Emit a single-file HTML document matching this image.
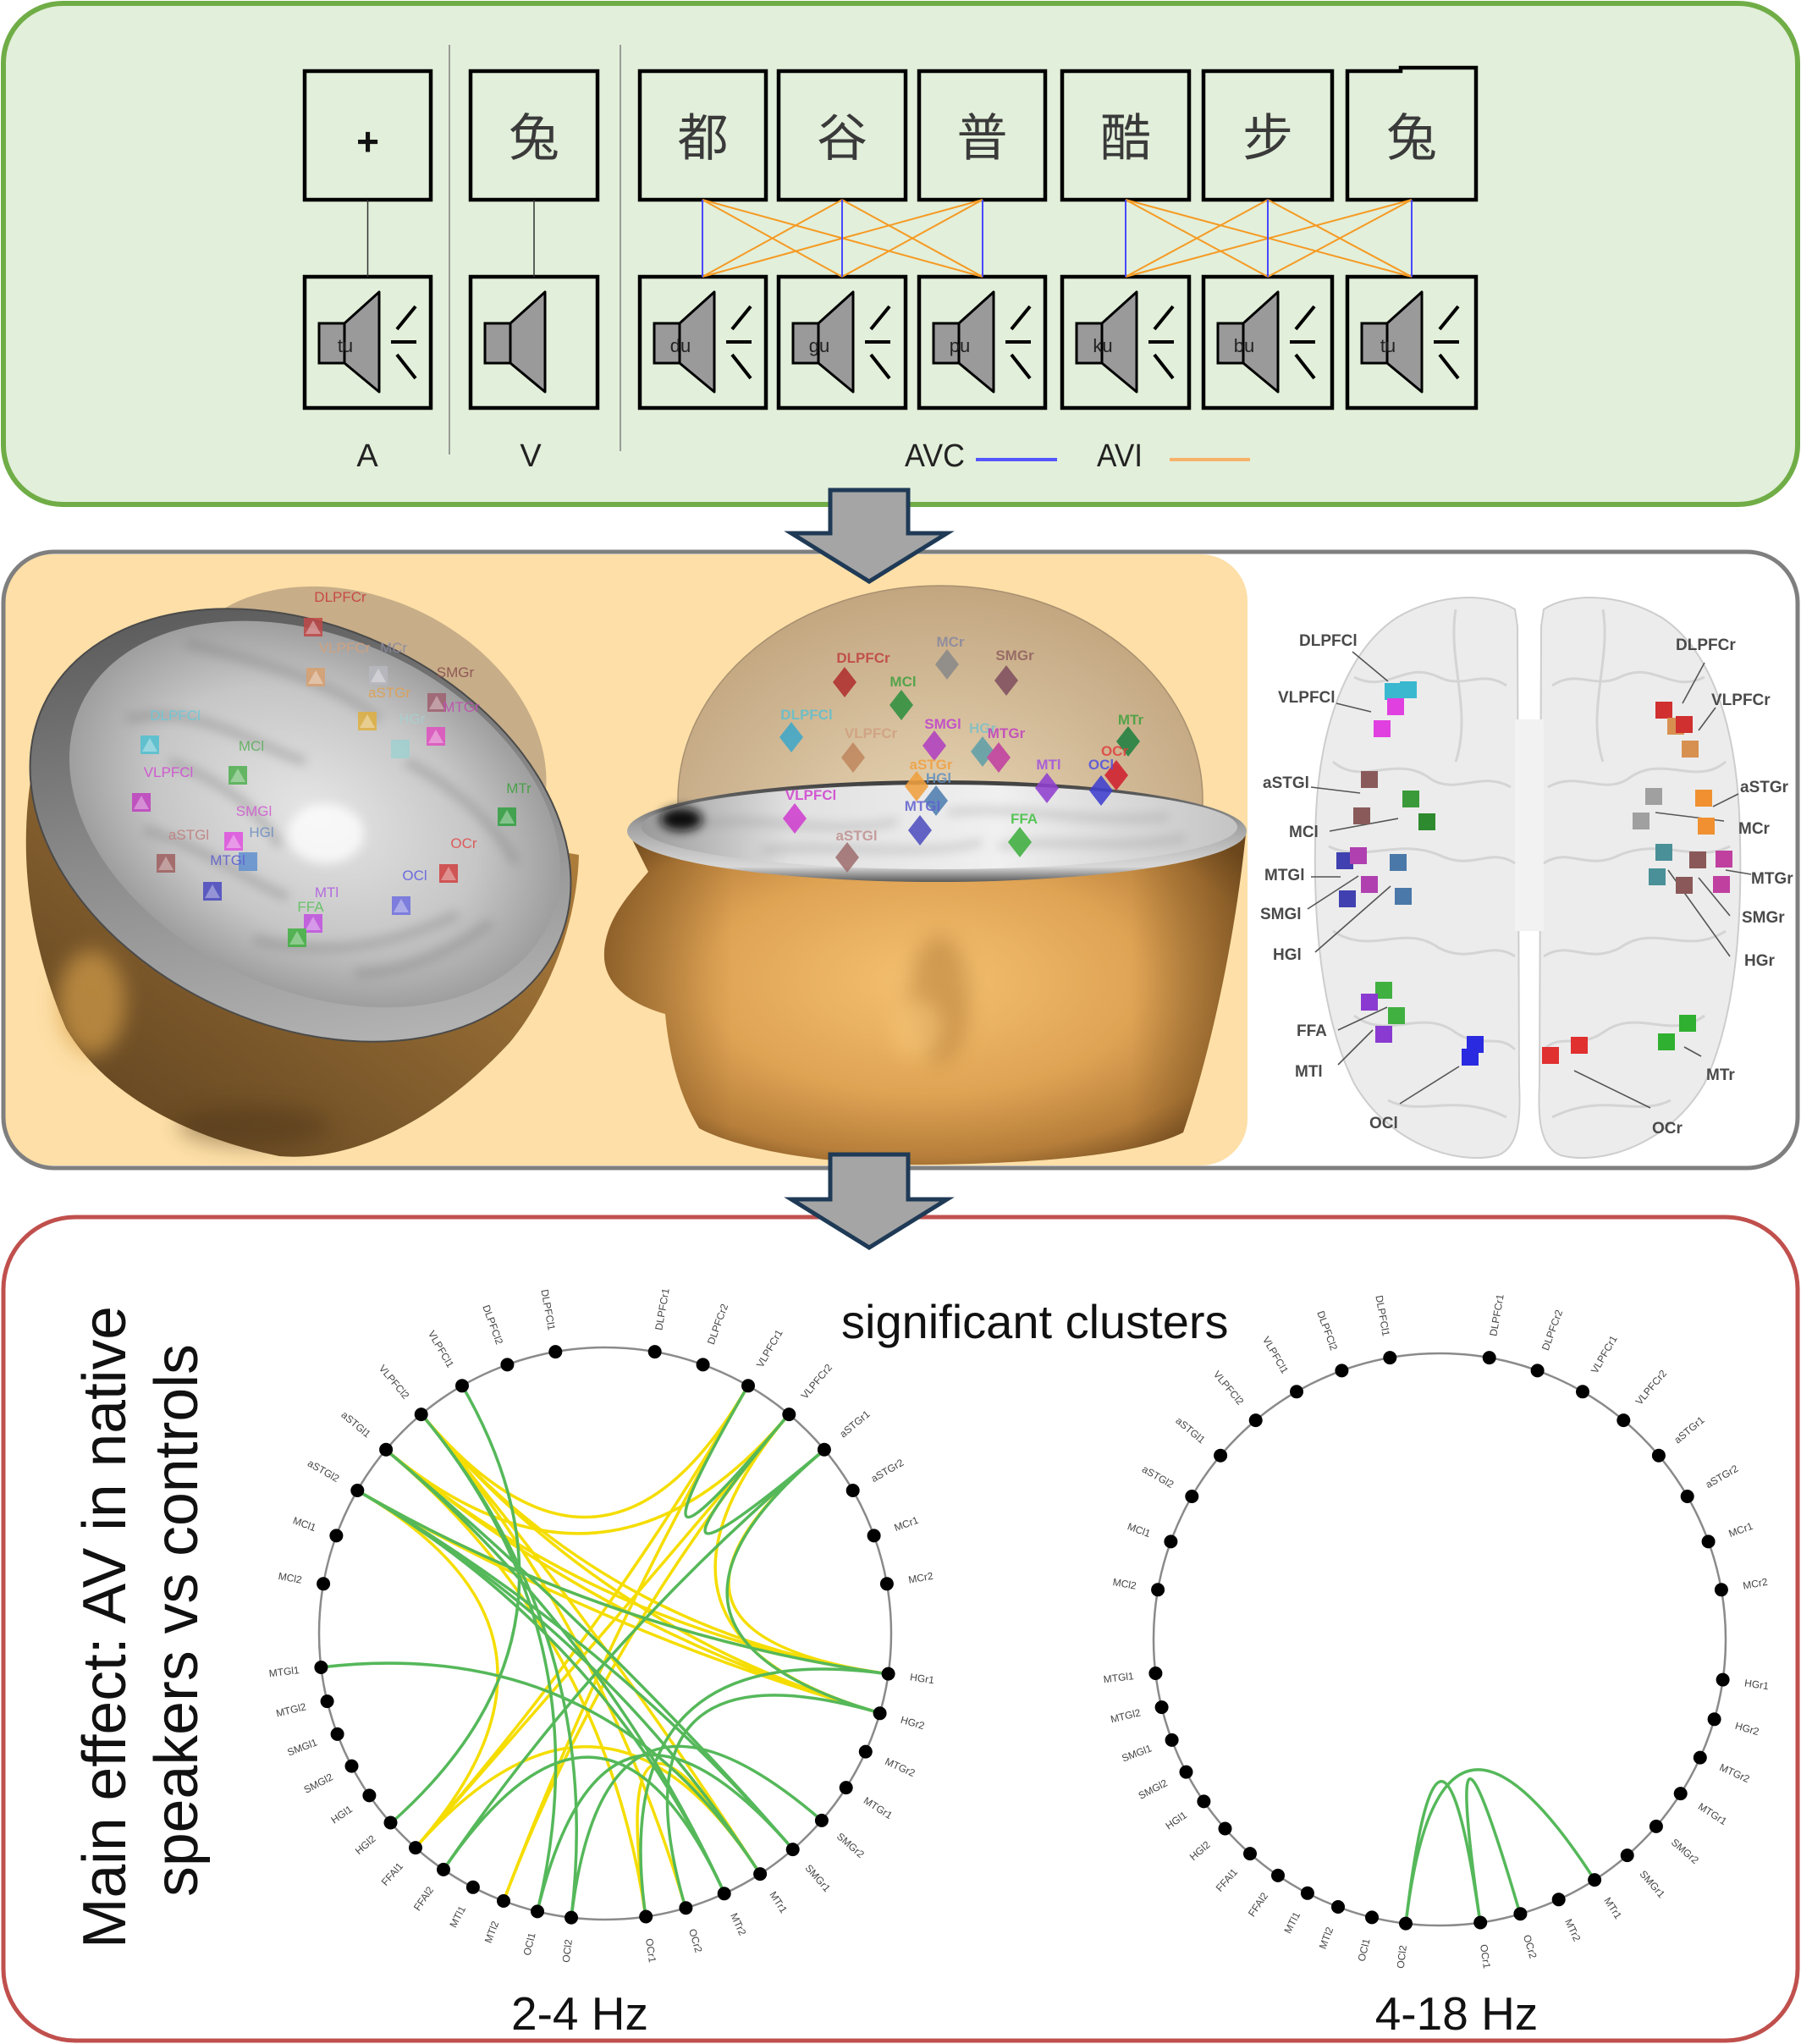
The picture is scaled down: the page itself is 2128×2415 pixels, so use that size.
<!DOCTYPE html>
<html><head><meta charset="utf-8"><style>html,body{margin:0;padding:0;background:#fff}svg{display:block}</style></head>
<body>
<svg xmlns="http://www.w3.org/2000/svg" width="2128" height="2415" viewBox="0 0 2128 2415" font-family="'Liberation Sans',Arial,sans-serif">
<defs>
<g id="spk">
<rect x="17" y="55" width="30" height="47" fill="#9a9a9a" stroke="#000" stroke-width="3"/>
<polygon points="47,55 88,18 88,136 47,102" fill="#9a9a9a" stroke="#000" stroke-width="3" stroke-linejoin="round"/>
<line x1="131" y1="35" x2="109" y2="62" stroke="#000" stroke-width="4"/>
<line x1="102" y1="77" x2="132" y2="77" stroke="#000" stroke-width="4"/>
<line x1="109" y1="92" x2="131" y2="120" stroke="#000" stroke-width="4"/>
</g>
<g id="spk0">
<rect x="17" y="55" width="30" height="47" fill="#9a9a9a" stroke="#000" stroke-width="3"/>
<polygon points="47,55 88,18 88,136 47,102" fill="#9a9a9a" stroke="#000" stroke-width="3" stroke-linejoin="round"/>
</g>
<linearGradient id="skinL" x1="0" y1="1" x2="1" y2="0"><stop offset="0" stop-color="#5a3f1e"/><stop offset=".5" stop-color="#87612f"/><stop offset="1" stop-color="#b9853f"/></linearGradient>
<radialGradient id="skinR" cx=".5" cy=".45" r=".62"><stop offset="0" stop-color="#f4c070"/><stop offset=".55" stop-color="#dfa354"/><stop offset=".85" stop-color="#b67e3a"/><stop offset="1" stop-color="#7e5424"/></radialGradient>
<linearGradient id="sideR" x1="0" y1="0" x2="1" y2="0"><stop offset="0" stop-color="#5a3a14" stop-opacity=".45"/><stop offset=".2" stop-color="#5a3a14" stop-opacity="0"/><stop offset=".82" stop-color="#5a3a14" stop-opacity="0"/><stop offset="1" stop-color="#5a3a14" stop-opacity=".55"/></linearGradient>
<linearGradient id="rimL" x1="0" y1="0" x2="1" y2="1"><stop offset="0" stop-color="#4a4a4a"/><stop offset=".5" stop-color="#8a8a8a"/><stop offset="1" stop-color="#c4c4c4"/></linearGradient>
<radialGradient id="sliceL" cx=".5" cy=".5" r=".55"><stop offset="0" stop-color="#e6e6e6"/><stop offset=".6" stop-color="#c6c6c6"/><stop offset="1" stop-color="#939393"/></radialGradient>
<radialGradient id="domeR" cx=".5" cy=".6" r=".6"><stop offset="0" stop-color="#ead8b8"/><stop offset="1" stop-color="#c2a680"/></radialGradient>
<linearGradient id="rimR" x1="0" y1="0" x2="0" y2="1"><stop offset="0" stop-color="#3c3c3c"/><stop offset=".45" stop-color="#a0a0a0"/><stop offset=".85" stop-color="#d8d8d8"/><stop offset="1" stop-color="#5a5a5a"/></linearGradient>
<linearGradient id="sliceR" x1="0" y1="0" x2="1" y2="0"><stop offset="0" stop-color="#9a9a9a"/><stop offset=".25" stop-color="#e0e0e0"/><stop offset=".6" stop-color="#f0f0f0"/><stop offset="1" stop-color="#c4c4c4"/></linearGradient>
<filter id="b6" x="-50%" y="-50%" width="200%" height="200%"><feGaussianBlur stdDeviation="6"/></filter>
<filter id="b12" x="-50%" y="-50%" width="200%" height="200%"><feGaussianBlur stdDeviation="12"/></filter>
</defs>

<rect width="2128" height="2415" fill="#fff"/>

<!-- TOP PANEL -->
<rect x="4" y="4" width="2120" height="592" rx="70" fill="#e2efda" stroke="#70ad47" stroke-width="6"/>
<line x1="531" y1="53" x2="531" y2="537" stroke="#808080" stroke-width="1.5"/>
<line x1="733" y1="53" x2="733" y2="533" stroke="#808080" stroke-width="1.5"/>
<g fill="none" stroke="#000" stroke-width="4.5">
<rect x="360" y="84" width="149" height="152"/>
<rect x="556" y="84" width="150" height="152"/>
<rect x="756" y="84" width="149" height="152"/>
<rect x="920" y="84" width="150" height="152"/>
<rect x="1086" y="84" width="149" height="152"/>
<rect x="1255" y="84" width="150" height="152"/>
<rect x="1422" y="84" width="152" height="152"/>
<path d="M1592 84 L1655 84 L1655 80 L1744 80 L1744 236 L1592 236 Z"/>
<rect x="360" y="327" width="149" height="155"/>
<rect x="556" y="327" width="150" height="155"/>
<rect x="756" y="327" width="149" height="155"/>
<rect x="920" y="327" width="150" height="155"/>
<rect x="1086" y="327" width="149" height="155"/>
<rect x="1255" y="327" width="150" height="155"/>
<rect x="1422" y="327" width="152" height="155"/>
<rect x="1592" y="327" width="152" height="155"/>
</g>
<text x="434.5" y="183" font-size="46" font-weight="bold" text-anchor="middle" fill="#111">+</text>
<g font-family="'Liberation Sans','Noto Sans CJK SC',sans-serif" font-size="60" fill="#3a3a3a" text-anchor="middle">
<text x="631" y="184">兔</text>
<text x="830.5" y="184">都</text>
<text x="995" y="184">谷</text>
<text x="1160.5" y="184">普</text>
<text x="1330" y="184">酷</text>
<text x="1498" y="184">步</text>
<text x="1668" y="184">兔</text>
</g>
<line x1="434.5" y1="236" x2="434.5" y2="327" stroke="#333" stroke-width="1.5"/>
<line x1="631" y1="236" x2="631" y2="327" stroke="#333" stroke-width="1.5"/>
<g stroke="#f59a23" stroke-width="2">
<line x1="830" y1="236" x2="995" y2="327"/><line x1="830" y1="236" x2="1161" y2="327"/>
<line x1="995" y1="236" x2="830" y2="327"/><line x1="995" y1="236" x2="1161" y2="327"/>
<line x1="1161" y1="236" x2="830" y2="327"/><line x1="1161" y1="236" x2="995" y2="327"/>
<line x1="1330" y1="236" x2="1498" y2="327"/><line x1="1330" y1="236" x2="1668" y2="327"/>
<line x1="1498" y1="236" x2="1330" y2="327"/><line x1="1498" y1="236" x2="1668" y2="327"/>
<line x1="1668" y1="236" x2="1330" y2="327"/><line x1="1668" y1="236" x2="1498" y2="327"/>
</g>
<g stroke="#4848ff" stroke-width="2">
<line x1="830" y1="236" x2="830" y2="327"/><line x1="995" y1="236" x2="995" y2="327"/><line x1="1161" y1="236" x2="1161" y2="327"/>
<line x1="1330" y1="236" x2="1330" y2="327"/><line x1="1498" y1="236" x2="1498" y2="327"/><line x1="1668" y1="236" x2="1668" y2="327"/>
</g>
<use href="#spk" x="360" y="327"/>
<use href="#spk0" x="556" y="327"/>
<use href="#spk" x="756" y="327"/>
<use href="#spk" x="920" y="327"/>
<use href="#spk" x="1086" y="327"/>
<use href="#spk" x="1255" y="327"/>
<use href="#spk" x="1422" y="327"/>
<use href="#spk" x="1592" y="327"/>
<g font-size="22" fill="#222" text-anchor="middle">
<text x="408" y="416">tu</text>
<text x="804" y="416">du</text>
<text x="968" y="416">gu</text>
<text x="1134" y="416">pu</text>
<text x="1303" y="416">ku</text>
<text x="1470" y="416">bu</text>
<text x="1640" y="416">tu</text>
</g>
<g font-size="38" fill="#222">
<text x="434" y="551" text-anchor="middle">A</text>
<text x="627" y="551" text-anchor="middle">V</text>
<text x="1069" y="551" textLength="71" lengthAdjust="spacingAndGlyphs">AVC</text>
<text x="1296" y="551" textLength="54" lengthAdjust="spacingAndGlyphs">AVI</text>
</g>
<line x1="1153" y1="543" x2="1249" y2="543" stroke="#5555ff" stroke-width="4"/>
<line x1="1382" y1="543" x2="1477" y2="543" stroke="#f7b26a" stroke-width="4"/>

<!-- MIDDLE PANEL -->
<rect x="4" y="652" width="2120" height="728" rx="60" fill="#fff"/>
<rect x="6" y="655" width="1468" height="722" rx="55" fill="#fddfa7"/>

<!-- left head -->
<path d="M40 900 C22 990 28 1100 78 1215 C125 1295 225 1345 330 1366 C425 1374 525 1315 602 1232 C652 1172 682 1085 684 1010 Z" fill="url(#skinL)"/>
<ellipse cx="108" cy="1185" rx="40" ry="62" fill="#d9a24c" opacity=".65" filter="url(#b12)"/>
<ellipse cx="300" cy="1330" rx="90" ry="25" fill="#4a3216" opacity=".4" filter="url(#b12)"/>
<ellipse cx="420" cy="880" rx="235" ry="175" transform="rotate(25 420 880)" fill="#c7ad88"/>
<ellipse cx="355" cy="975" rx="335" ry="235" transform="rotate(25 355 975)" fill="url(#rimL)" stroke="#4a4a4a" stroke-width="2"/>
<ellipse cx="372" cy="962" rx="305" ry="208" transform="rotate(25 372 962)" fill="url(#sliceL)"/>
<g filter="url(#b6)" stroke="#7a7a7a" stroke-width="10" fill="none" opacity=".4">
<path d="M150 850 C230 830 300 880 360 900"/>
<path d="M220 760 C300 780 380 800 450 850"/>
<path d="M300 1110 C380 1130 460 1120 540 1080"/>
<path d="M170 980 C240 1000 290 1040 340 1060"/>
<path d="M480 900 C540 930 590 980 610 1020"/>
<path d="M420 1150 C480 1150 540 1120 580 1090"/>
<path d="M200 900 C260 920 310 960 330 1000"/>
</g>
<ellipse cx="385" cy="985" rx="45" ry="35" fill="#fff" opacity=".75" filter="url(#b6)"/>

<!-- left head markers -->
<g opacity=".85">
<rect x="359" y="730" width="22" height="22" fill="#c04848"/>
<rect x="362" y="789" width="22" height="22" fill="#d8a070"/>
<rect x="436" y="787" width="22" height="22" fill="#b8b8c0"/>
<rect x="505" y="819" width="22" height="22" fill="#a06070"/>
<rect x="423" y="841" width="22" height="22" fill="#e0b040"/>
<rect x="504" y="859" width="22" height="22" fill="#e050c0"/>
<rect x="462" y="874" width="22" height="22" fill="#a0d0d0"/>
<rect x="166" y="869" width="22" height="22" fill="#50c0d0"/>
<rect x="270" y="905" width="22" height="22" fill="#50b050"/>
<rect x="156" y="937" width="22" height="22" fill="#c040c0"/>
<rect x="588" y="954" width="22" height="22" fill="#30a040"/>
<rect x="265" y="983" width="22" height="22" fill="#e050e0"/>
<rect x="282" y="1007" width="22" height="22" fill="#6090d0"/>
<rect x="185" y="1009" width="22" height="22" fill="#a06060"/>
<rect x="240" y="1042" width="22" height="22" fill="#4848c0"/>
<rect x="519" y="1021" width="22" height="22" fill="#d04040"/>
<rect x="463" y="1059" width="22" height="22" fill="#7070e0"/>
<rect x="359" y="1080" width="22" height="22" fill="#c050e0"/>
<rect x="340" y="1097" width="22" height="22" fill="#40b040"/>
</g>
<g fill="#fff" opacity=".35">
<polygon points="370,733 379,749 361,749"/><polygon points="373,792 382,808 364,808"/><polygon points="447,790 456,806 438,806"/>
<polygon points="516,822 525,838 507,838"/><polygon points="434,844 443,860 425,860"/><polygon points="515,862 524,878 506,878"/>
<polygon points="177,872 186,888 168,888"/><polygon points="281,908 290,924 272,924"/><polygon points="167,940 176,956 158,956"/>
<polygon points="599,957 608,973 590,973"/><polygon points="276,986 285,1002 267,1002"/><polygon points="196,1012 205,1028 187,1028"/>
<polygon points="251,1045 260,1061 242,1061"/><polygon points="530,1024 539,1040 521,1040"/><polygon points="474,1062 483,1078 465,1078"/>
<polygon points="370,1083 379,1099 361,1099"/><polygon points="351,1100 360,1116 342,1116"/>
</g>
<g font-size="17" text-anchor="middle" opacity=".9">
<text x="402" y="711" fill="#c84040">DLPFCr</text>
<text x="407" y="771" fill="#d4a27c">VLPFCr</text>
<text x="465" y="771" fill="#8a8aa0">MCr</text>
<text x="538" y="800" fill="#8a5050">SMGr</text>
<text x="460" y="824" fill="#e0a050">aSTGr</text>
<text x="545" y="841" fill="#c050b0">MTGr</text>
<text x="487" y="855" fill="#a8d0d0">HGr</text>
<text x="207" y="851" fill="#6cc8d8">DLPFCl</text>
<text x="297" y="887" fill="#60b060">MCl</text>
<text x="199" y="918" fill="#d050d0">VLPFCl</text>
<text x="613" y="937" fill="#40a040">MTr</text>
<text x="300" y="964" fill="#d060d0">SMGl</text>
<text x="309" y="989" fill="#7090c0">HGl</text>
<text x="223" y="992" fill="#c08080">aSTGl</text>
<text x="269" y="1022" fill="#6060d0">MTGl</text>
<text x="548" y="1002" fill="#e05050">OCr</text>
<text x="490" y="1040" fill="#6060e0">OCl</text>
<text x="386" y="1060" fill="#b060e0">MTl</text>
<text x="367" y="1077" fill="#60c060">FFA</text>
</g>

<!-- right head -->
<ellipse cx="1111" cy="945" rx="310" ry="253" fill="url(#domeR)" stroke="#a89070" stroke-width="1.5"/>
<path d="M742 982 L766 1030 C745 1055 716 1085 714 1125 C712 1160 740 1185 786 1198 C790 1240 800 1290 826 1333 C880 1362 1000 1378 1100 1376 C1250 1374 1350 1362 1398 1338 C1428 1250 1458 1120 1472 985 Z" fill="url(#skinR)"/>
<path d="M742 982 L766 1030 C745 1055 716 1085 714 1125 C712 1160 740 1185 786 1198 C790 1240 800 1290 826 1333 C880 1362 1000 1378 1100 1376 C1250 1374 1350 1362 1398 1338 C1428 1250 1458 1120 1472 985 Z" fill="url(#sideR)"/>
<ellipse cx="1110" cy="1180" rx="35" ry="75" fill="#a87232" opacity=".45" filter="url(#b12)"/>
<ellipse cx="1085" cy="1215" rx="30" ry="35" fill="#f8c878" opacity=".6" filter="url(#b12)"/>
<ellipse cx="1107" cy="982" rx="366" ry="60" fill="url(#rimR)"/>
<ellipse cx="1110" cy="977" rx="352" ry="50" fill="url(#sliceR)"/>
<g filter="url(#b6)" stroke="#8a8a8a" stroke-width="6" fill="none" opacity=".45">
<path d="M820 975 C900 960 980 990 1060 970"/>
<path d="M900 1005 C980 995 1080 1015 1160 995"/>
<path d="M1120 960 C1200 950 1280 975 1380 965"/>
<path d="M1180 1000 C1250 990 1320 1005 1400 990"/>
</g>
<ellipse cx="805" cy="968" rx="25" ry="14" fill="#111" filter="url(#b6)"/>
<g opacity=".88">
<polygon points="1119,767 1133,785 1119,803 1105,785" fill="#8a8a8a"/>
<polygon points="998,788 1012,806 998,824 984,806" fill="#b03030"/>
<polygon points="1189,786 1203,804 1189,822 1175,804" fill="#805060"/>
<polygon points="1065,815 1079,833 1065,851 1051,833" fill="#309040"/>
<polygon points="935,853 949,871 935,889 921,871" fill="#40a8c8"/>
<polygon points="1104,863 1118,881 1104,899 1090,881" fill="#b040c0"/>
<polygon points="1008,877 1022,895 1008,913 994,895" fill="#c08860"/>
<polygon points="1161,870 1175,888 1161,906 1147,888" fill="#60a0a8"/>
<polygon points="1180,877 1194,895 1180,913 1166,895" fill="#c040a0"/>
<polygon points="1333,858 1347,876 1333,894 1319,876" fill="#208040"/>
<polygon points="1319,898 1333,916 1319,934 1305,916" fill="#d02030"/>
<polygon points="1083,911 1097,929 1083,947 1069,929" fill="#f0a040"/>
<polygon points="1237,913 1251,931 1237,949 1223,931" fill="#9040d0"/>
<polygon points="1301,916 1315,934 1301,952 1287,934" fill="#4040d0"/>
<polygon points="1106,928 1120,946 1106,964 1092,946" fill="#5080b0"/>
<polygon points="939,949 953,967 939,985 925,967" fill="#d040d0"/>
<polygon points="1087,963 1101,981 1087,999 1073,981" fill="#5050c0"/>
<polygon points="1205,977 1219,995 1205,1013 1191,995" fill="#40b040"/>
<polygon points="1001,995 1015,1013 1001,1031 987,1013" fill="#a07070"/>
</g>
<g font-size="17" text-anchor="middle" font-weight="bold" opacity=".85">
<text x="1123" y="764" fill="#8888a0">MCr</text>
<text x="1020" y="783" fill="#c04040">DLPFCr</text>
<text x="1199" y="780" fill="#906060">SMGr</text>
<text x="1067" y="811" fill="#40a040">MCl</text>
<text x="953" y="850" fill="#60c0d0">DLPFCl</text>
<text x="1114" y="861" fill="#c040d0">SMGl</text>
<text x="1029" y="872" fill="#d0a080">VLPFCr</text>
<text x="1161" y="866" fill="#80c0c8">HGr</text>
<text x="1189" y="872" fill="#c040c0">MTGr</text>
<text x="1336" y="856" fill="#40a040">MTr</text>
<text x="1317" y="893" fill="#e04040">OCr</text>
<text x="1100" y="909" fill="#f0a040">aSTGr</text>
<text x="1239" y="909" fill="#a050e0">MTl</text>
<text x="1301" y="909" fill="#5050e0">OCl</text>
<text x="1109" y="925" fill="#6090c0">HGl</text>
<text x="958" y="945" fill="#d040d0">VLPFCl</text>
<text x="1090" y="958" fill="#6060d0">MTGl</text>
<text x="1210" y="973" fill="#40c040">FFA</text>
<text x="1012" y="993" fill="#c09090">aSTGl</text>
</g>

<!-- right brain -->
<path d="M1790 720 C1760 700 1700 700 1650 730 C1590 770 1560 860 1555 960 C1550 1080 1560 1200 1600 1280 C1640 1350 1720 1378 1770 1365 C1795 1355 1797 1320 1795 1280 L1793 740 Z" fill="#ececec" stroke="#cdcdcd" stroke-width="2"/>
<path d="M1824 720 C1854 700 1914 700 1964 730 C2024 770 2050 860 2055 960 C2060 1080 2052 1200 2014 1280 C1974 1350 1894 1378 1844 1365 C1819 1355 1817 1320 1819 1280 L1821 740 Z" fill="#ececec" stroke="#cdcdcd" stroke-width="2"/>
<rect x="1790" y="850" width="34" height="250" fill="#f2f2f2"/>
<g stroke="#d4d4d4" stroke-width="3" fill="none">
<path d="M1600 800 C1640 820 1660 780 1700 800 C1730 815 1750 790 1780 810"/>
<path d="M1575 900 C1610 930 1650 890 1690 920 C1720 940 1750 910 1785 930"/>
<path d="M1570 1000 C1610 1020 1650 990 1700 1010 C1740 1030 1760 1000 1790 1020"/>
<path d="M1575 1100 C1620 1130 1660 1090 1700 1120 C1740 1140 1760 1110 1790 1130"/>
<path d="M1600 1200 C1640 1230 1680 1190 1720 1220 C1750 1240 1770 1220 1790 1240"/>
<path d="M1640 1300 C1680 1320 1720 1290 1780 1320"/>
<path d="M2014 800 C1974 820 1954 780 1914 800 C1884 815 1864 790 1834 810"/>
<path d="M2039 900 C2004 930 1964 890 1924 920 C1894 940 1864 910 1829 930"/>
<path d="M2044 1000 C2004 1020 1964 990 1914 1010 C1874 1030 1854 1000 1824 1020"/>
<path d="M2039 1100 C1994 1130 1954 1090 1914 1120 C1874 1140 1854 1110 1824 1130"/>
<path d="M2014 1200 C1974 1230 1934 1190 1894 1220 C1864 1240 1844 1220 1824 1240"/>
<path d="M1974 1300 C1934 1320 1894 1290 1834 1320"/>
<path d="M1720 720 C1710 780 1740 840 1720 900"/>
<path d="M1894 720 C1904 780 1874 840 1894 900"/>
</g>
<g stroke="#555" stroke-width="1.6">
<line x1="1598" y1="770" x2="1640" y2="805"/>
<line x1="1579" y1="831" x2="1620" y2="841"/>
<line x1="1549" y1="930" x2="1607" y2="937"/>
<line x1="1571" y1="982" x2="1652" y2="967"/>
<line x1="1549" y1="1036" x2="1584" y2="1036"/>
<line x1="1545" y1="1074" x2="1605" y2="1035"/>
<line x1="1554" y1="1125" x2="1643" y2="1047"/>
<line x1="1581" y1="1217" x2="1639" y2="1190"/>
<line x1="1581" y1="1258" x2="1622" y2="1217"/>
<line x1="1654" y1="1304" x2="1724" y2="1260"/>
<line x1="2014" y1="783" x2="1988" y2="831"/>
<line x1="2027" y1="836" x2="2007" y2="863"/>
<line x1="2054" y1="938" x2="2024" y2="953"/>
<line x1="2037" y1="970" x2="1956" y2="960"/>
<line x1="2069" y1="1033" x2="2039" y2="1028"/>
<line x1="2044" y1="1082" x2="2007" y2="1037"/>
<line x1="2044" y1="1130" x2="1971" y2="1028"/>
<line x1="2010" y1="1248" x2="1990" y2="1237"/>
<line x1="1950" y1="1309" x2="1860" y2="1265"/>
</g>
<g>
<rect x="1636" y="807" width="20" height="20" fill="#3ab8d0"/><rect x="1654" y="805" width="20" height="20" fill="#3ab8d0"/>
<rect x="1639" y="825" width="20" height="20" fill="#e040e0"/><rect x="1623" y="851" width="20" height="20" fill="#e040e0"/>
<rect x="1608" y="911" width="20" height="20" fill="#8a5a5a"/><rect x="1599" y="954" width="20" height="20" fill="#8a5a5a"/>
<rect x="1657" y="934" width="20" height="20" fill="#3a9a3a"/><rect x="1676" y="961" width="20" height="20" fill="#2e8a2e"/>
<rect x="1579" y="1007" width="20" height="20" fill="#4040b0"/><rect x="1582" y="1052" width="20" height="20" fill="#4040b0"/>
<rect x="1595" y="1001" width="20" height="20" fill="#b040b0"/><rect x="1608" y="1035" width="20" height="20" fill="#b040b0"/>
<rect x="1642" y="1009" width="20" height="20" fill="#4a78a8"/><rect x="1648" y="1049" width="20" height="20" fill="#4a78a8"/>
<rect x="1625" y="1160" width="20" height="20" fill="#40b040"/><rect x="1640" y="1190" width="20" height="20" fill="#40b040"/>
<rect x="1608" y="1174" width="20" height="20" fill="#8a3ad0"/><rect x="1625" y="1212" width="20" height="20" fill="#8a3ad0"/>
<rect x="1733" y="1224" width="20" height="20" fill="#2a2ae0"/><rect x="1727" y="1239" width="20" height="20" fill="#2a2ae0"/>
<rect x="1822" y="1237" width="20" height="20" fill="#e03030"/><rect x="1856" y="1225" width="20" height="20" fill="#e03030"/>
<rect x="1984" y="1199" width="20" height="20" fill="#30b030"/><rect x="1959" y="1221" width="20" height="20" fill="#30b030"/>
<rect x="1956" y="829" width="20" height="20" fill="#d03030"/><rect x="1970" y="848" width="20" height="20" fill="#d89050"/>
<rect x="1980" y="846" width="20" height="20" fill="#d03030"/><rect x="1987" y="875" width="20" height="20" fill="#d89050"/>
<rect x="1944" y="931" width="20" height="20" fill="#a0a0a0"/><rect x="1929" y="960" width="20" height="20" fill="#a0a0a0"/>
<rect x="2003" y="933" width="20" height="20" fill="#f09030"/><rect x="2006" y="966" width="20" height="20" fill="#f09030"/>
<rect x="1956" y="997" width="20" height="20" fill="#4a9098"/><rect x="1948" y="1026" width="20" height="20" fill="#4a9098"/>
<rect x="1996" y="1006" width="20" height="20" fill="#8a5858"/><rect x="1980" y="1036" width="20" height="20" fill="#8a5858"/>
<rect x="2027" y="1005" width="20" height="20" fill="#c040a0"/><rect x="2024" y="1035" width="20" height="20" fill="#c040a0"/>
</g>
<g font-size="19" font-weight="bold" fill="#4a4a4a">
<text x="1535" y="763">DLPFCl</text>
<text x="1510" y="830">VLPFCl</text>
<text x="1492" y="931">aSTGl</text>
<text x="1523" y="989">MCl</text>
<text x="1494" y="1040">MTGl</text>
<text x="1489" y="1086">SMGl</text>
<text x="1504" y="1134">HGl</text>
<text x="1532" y="1224">FFA</text>
<text x="1530" y="1272">MTl</text>
<text x="1618" y="1333">OCl</text>
<text x="1980" y="768">DLPFCr</text>
<text x="2022" y="833">VLPFCr</text>
<text x="2056" y="936">aSTGr</text>
<text x="2054" y="985">MCr</text>
<text x="2069" y="1044">MTGr</text>
<text x="2058" y="1090">SMGr</text>
<text x="2061" y="1141">HGr</text>
<text x="2016" y="1276">MTr</text>
<text x="1952" y="1339">OCr</text>
</g>
<rect x="4" y="652" width="2120" height="728" rx="60" fill="none" stroke="#7f7f7f" stroke-width="5"/>

<!-- BOTTOM PANEL -->
<rect x="4" y="1438" width="2120" height="973" rx="85" fill="#fff" stroke="#c0504d" stroke-width="5"/>
<text transform="translate(148 2302) rotate(-90)" font-size="72" fill="#111" textLength="759" lengthAdjust="spacingAndGlyphs">Main effect: AV in native</text>
<text transform="translate(233 2241) rotate(-90)" font-size="72" fill="#111" textLength="653" lengthAdjust="spacingAndGlyphs">speakers vs controls</text>
<text x="994" y="1581" font-size="56" fill="#111">significant clusters</text>
<text x="685" y="2398" font-size="55" fill="#111" text-anchor="middle">2-4 Hz</text>
<text x="1721" y="2398" font-size="55" fill="#111" text-anchor="middle">4-18 Hz</text>

<!-- circle 1 -->
<circle cx="715" cy="1930" r="338" fill="none" stroke="#8a8a8a" stroke-width="2.5"/>
<g fill="none" stroke-width="3.5" stroke-linecap="round">
<g stroke="#f5dd00">
<path d="M498 1671Q715 1930 884 1637"/>
<path d="M456 1713Q715 1930 932 1671"/>
<path d="M498 1671Q715 1930 1050 1978"/>
<path d="M498 1671Q715 1930 1040 2024"/>
<path d="M456 1713Q715 1930 1050 1978"/>
<path d="M456 1713Q715 1930 1040 2024"/>
<path d="M422 1761Q715 1930 1050 1978"/>
<path d="M422 1761Q715 1930 1040 2024"/>
<path d="M422 1761Q715 1930 491 2183"/>
<path d="M932 1671Q715 1930 491 2183"/>
<path d="M932 1671Q715 1930 595 2246"/>
<path d="M884 1637Q715 1930 491 2183"/>
<path d="M491 2183Q715 1930 898 2214"/>
<path d="M498 1671Q715 1930 810 2254"/>
<path d="M456 1713Q715 1930 763 2265"/>
<path d="M974 1713Q715 1930 1050 1978"/>
<path d="M932 1671Q715 1930 1040 2024"/>
<path d="M763 2265Q715 1930 898 2214"/>
<path d="M884 1637Q715 1930 595 2246"/>
<path d="M498 1671Q715 1930 898 2214"/>
</g>
<g stroke="#55b85a">
<path d="M546 1637Q715 1930 462 2154"/>
<path d="M498 1671Q715 1930 635 2258"/>
<path d="M498 1671Q715 1930 675 2266"/>
<path d="M456 1713Q715 1930 856 2237"/>
<path d="M456 1713Q715 1930 937 2185"/>
<path d="M422 1761Q715 1930 937 2185"/>
<path d="M422 1761Q715 1930 898 2214"/>
<path d="M422 1761Q715 1930 856 2237"/>
<path d="M379 1970Q715 1930 898 2214"/>
<path d="M524 2209Q715 1930 856 2237"/>
<path d="M884 1637Q715 1930 932 1671"/>
<path d="M932 1671Q715 1930 974 1713"/>
<path d="M974 1713Q715 1930 524 2209"/>
<path d="M1050 1978Q715 1930 763 2265"/>
<path d="M1040 2024Q715 1930 810 2254"/>
<path d="M971 2151Q715 1930 675 2266"/>
<path d="M937 2185Q715 1930 635 2258"/>
<path d="M974 1713Q715 1930 1040 2024"/>
<path d="M422 1761Q715 1930 1050 1978"/>
</g>
</g>
<g fill="#000">
<circle cx="773.7" cy="1597.1" r="8"/><circle cx="830.6" cy="1612.4" r="8"/><circle cx="884" cy="1637.3" r="8"/><circle cx="932.3" cy="1671.1" r="8"/><circle cx="973.9" cy="1712.7" r="8"/><circle cx="1007.7" cy="1761" r="8"/><circle cx="1032.6" cy="1814.4" r="8"/><circle cx="1047.9" cy="1871.3" r="8"/>
<circle cx="656.3" cy="1597.1" r="8"/><circle cx="599.4" cy="1612.4" r="8"/><circle cx="546" cy="1637.3" r="8"/><circle cx="497.7" cy="1671.1" r="8"/><circle cx="456.1" cy="1712.7" r="8"/><circle cx="422.3" cy="1761" r="8"/><circle cx="397.4" cy="1814.4" r="8"/><circle cx="382.1" cy="1871.3" r="8"/>
<circle cx="379.4" cy="1970" r="8"/><circle cx="386.6" cy="2010.1" r="8"/><circle cx="398.6" cy="2048.9" r="8"/><circle cx="415.5" cy="2086.6" r="8"/><circle cx="436.4" cy="2121.4" r="8"/><circle cx="461.5" cy="2153.5" r="8"/><circle cx="491" cy="2183.1" r="8"/><circle cx="524" cy="2208.9" r="8"/><circle cx="558.9" cy="2229.8" r="8"/><circle cx="595" cy="2246" r="8"/><circle cx="635" cy="2258.4" r="8"/><circle cx="675" cy="2265.6" r="8"/>
<circle cx="1049.6" cy="1977.6" r="8"/><circle cx="1039.6" cy="2024.3" r="8"/><circle cx="1022.8" cy="2069.6" r="8"/><circle cx="999.7" cy="2112.1" r="8"/><circle cx="970.9" cy="2150.9" r="8"/><circle cx="936.7" cy="2185.1" r="8"/><circle cx="898.1" cy="2214.1" r="8"/><circle cx="855.7" cy="2237.3" r="8"/><circle cx="810.4" cy="2254.2" r="8"/><circle cx="763.2" cy="2264.5" r="8"/>
</g>
<g font-size="12" fill="#444">
<text transform="rotate(10 715 1930) translate(715 1566) rotate(-90)" dy="4">DLPFCr1</text>
<text transform="rotate(20 715 1930) translate(715 1566) rotate(-90)" dy="4">DLPFCr2</text>
<text transform="rotate(30 715 1930) translate(715 1566) rotate(-90)" dy="4">VLPFCr1</text>
<text transform="rotate(40 715 1930) translate(715 1566) rotate(-90)" dy="4">VLPFCr2</text>
<text transform="rotate(50 715 1930) translate(715 1566) rotate(-90)" dy="4">aSTGr1</text>
<text transform="rotate(60 715 1930) translate(715 1566) rotate(-90)" dy="4">aSTGr2</text>
<text transform="rotate(70 715 1930) translate(715 1566) rotate(-90)" dy="4">MCr1</text>
<text transform="rotate(80 715 1930) translate(715 1566) rotate(-90)" dy="4">MCr2</text>
<text transform="rotate(98.1 715 1930) translate(715 1566) rotate(-90)" dy="4">HGr1</text>
<text transform="rotate(106.2 715 1930) translate(715 1566) rotate(-90)" dy="4">HGr2</text>
<text transform="rotate(114.4 715 1930) translate(715 1566) rotate(-90)" dy="4">MTGr2</text>
<text transform="rotate(122.6 715 1930) translate(715 1566) rotate(-90)" dy="4">MTGr1</text>
<text transform="rotate(130.8 715 1930) translate(715 1566) rotate(-90)" dy="4">SMGr2</text>
<text transform="rotate(139 715 1930) translate(715 1566) rotate(-90)" dy="4">SMGr1</text>
<text transform="rotate(147.2 715 1930) translate(715 1566) rotate(-90)" dy="4">MTr1</text>
<text transform="rotate(155.4 715 1930) translate(715 1566) rotate(-90)" dy="4">MTr2</text>
<text transform="rotate(163.6 715 1930) translate(715 1566) rotate(-90)" dy="4">OCr2</text>
<text transform="rotate(171.8 715 1930) translate(715 1566) rotate(-90)" dy="4">OCr1</text>
</g>
<g font-size="12" fill="#444" text-anchor="end">
<text transform="rotate(-10 715 1930) translate(715 1566) rotate(90)" dy="4">DLPFCl1</text>
<text transform="rotate(-20 715 1930) translate(715 1566) rotate(90)" dy="4">DLPFCl2</text>
<text transform="rotate(-30 715 1930) translate(715 1566) rotate(90)" dy="4">VLPFCl1</text>
<text transform="rotate(-40 715 1930) translate(715 1566) rotate(90)" dy="4">VLPFCl2</text>
<text transform="rotate(-50 715 1930) translate(715 1566) rotate(90)" dy="4">aSTGl1</text>
<text transform="rotate(-60 715 1930) translate(715 1566) rotate(90)" dy="4">aSTGl2</text>
<text transform="rotate(-70 715 1930) translate(715 1566) rotate(90)" dy="4">MCl1</text>
<text transform="rotate(-80 715 1930) translate(715 1566) rotate(90)" dy="4">MCl2</text>
<text transform="rotate(-96.8 715 1930) translate(715 1566) rotate(90)" dy="4">MTGl1</text>
<text transform="rotate(-103.7 715 1930) translate(715 1566) rotate(90)" dy="4">MTGl2</text>
<text transform="rotate(-110.6 715 1930) translate(715 1566) rotate(90)" dy="4">SMGl1</text>
<text transform="rotate(-117.6 715 1930) translate(715 1566) rotate(90)" dy="4">SMGl2</text>
<text transform="rotate(-124.5 715 1930) translate(715 1566) rotate(90)" dy="4">HGl1</text>
<text transform="rotate(-131.4 715 1930) translate(715 1566) rotate(90)" dy="4">HGl2</text>
<text transform="rotate(-138.5 715 1930) translate(715 1566) rotate(90)" dy="4">FFAl1</text>
<text transform="rotate(-145.6 715 1930) translate(715 1566) rotate(90)" dy="4">FFAl2</text>
<text transform="rotate(-152.5 715 1930) translate(715 1566) rotate(90)" dy="4">MTl1</text>
<text transform="rotate(-159.2 715 1930) translate(715 1566) rotate(90)" dy="4">MTl2</text>
<text transform="rotate(-166.3 715 1930) translate(715 1566) rotate(90)" dy="4">OCl1</text>
<text transform="rotate(-173.2 715 1930) translate(715 1566) rotate(90)" dy="4">OCl2</text>
</g>

<!-- circle 2 -->
<circle cx="1701" cy="1937" r="338" fill="none" stroke="#8a8a8a" stroke-width="2.5"/>
<g fill="none" stroke="#55b85a" stroke-width="3.5">
<path d="M1661 2273Q1701 1937 1749 2272"/>
<path d="M1661 2273Q1701 1937 1884 2221"/>
<path d="M1749 2272Q1701 1937 1796 2261"/>
</g>
<g fill="#000">
<circle cx="1759.7" cy="1604.1" r="8"/><circle cx="1816.6" cy="1619.4" r="8"/><circle cx="1870" cy="1644.3" r="8"/><circle cx="1918.3" cy="1678.1" r="8"/><circle cx="1959.9" cy="1719.7" r="8"/><circle cx="1993.7" cy="1768" r="8"/><circle cx="2018.6" cy="1821.4" r="8"/><circle cx="2033.9" cy="1878.3" r="8"/>
<circle cx="1642.3" cy="1604.1" r="8"/><circle cx="1585.4" cy="1619.4" r="8"/><circle cx="1532" cy="1644.3" r="8"/><circle cx="1483.7" cy="1678.1" r="8"/><circle cx="1442.1" cy="1719.7" r="8"/><circle cx="1408.3" cy="1768" r="8"/><circle cx="1383.4" cy="1821.4" r="8"/><circle cx="1368.1" cy="1878.3" r="8"/>
<circle cx="1365.4" cy="1977" r="8"/><circle cx="1372.6" cy="2017.1" r="8"/><circle cx="1384.6" cy="2055.9" r="8"/><circle cx="1401.5" cy="2093.6" r="8"/><circle cx="1422.4" cy="2128.4" r="8"/><circle cx="1447.5" cy="2160.5" r="8"/><circle cx="1477" cy="2190.1" r="8"/><circle cx="1510" cy="2215.9" r="8"/><circle cx="1544.9" cy="2236.8" r="8"/><circle cx="1581" cy="2253" r="8"/><circle cx="1621" cy="2265.4" r="8"/><circle cx="1661" cy="2272.6" r="8"/>
<circle cx="2035.6" cy="1984.6" r="8"/><circle cx="2025.6" cy="2031.3" r="8"/><circle cx="2008.8" cy="2076.6" r="8"/><circle cx="1985.7" cy="2119.1" r="8"/><circle cx="1956.9" cy="2157.9" r="8"/><circle cx="1922.7" cy="2192.1" r="8"/><circle cx="1884.1" cy="2221.1" r="8"/><circle cx="1841.7" cy="2244.3" r="8"/><circle cx="1796.4" cy="2261.2" r="8"/><circle cx="1749.2" cy="2271.5" r="8"/>
</g>
<g font-size="12" fill="#444">
<text transform="rotate(10 1701 1937) translate(1701 1573) rotate(-90)" dy="4">DLPFCr1</text>
<text transform="rotate(20 1701 1937) translate(1701 1573) rotate(-90)" dy="4">DLPFCr2</text>
<text transform="rotate(30 1701 1937) translate(1701 1573) rotate(-90)" dy="4">VLPFCr1</text>
<text transform="rotate(40 1701 1937) translate(1701 1573) rotate(-90)" dy="4">VLPFCr2</text>
<text transform="rotate(50 1701 1937) translate(1701 1573) rotate(-90)" dy="4">aSTGr1</text>
<text transform="rotate(60 1701 1937) translate(1701 1573) rotate(-90)" dy="4">aSTGr2</text>
<text transform="rotate(70 1701 1937) translate(1701 1573) rotate(-90)" dy="4">MCr1</text>
<text transform="rotate(80 1701 1937) translate(1701 1573) rotate(-90)" dy="4">MCr2</text>
<text transform="rotate(98.1 1701 1937) translate(1701 1573) rotate(-90)" dy="4">HGr1</text>
<text transform="rotate(106.2 1701 1937) translate(1701 1573) rotate(-90)" dy="4">HGr2</text>
<text transform="rotate(114.4 1701 1937) translate(1701 1573) rotate(-90)" dy="4">MTGr2</text>
<text transform="rotate(122.6 1701 1937) translate(1701 1573) rotate(-90)" dy="4">MTGr1</text>
<text transform="rotate(130.8 1701 1937) translate(1701 1573) rotate(-90)" dy="4">SMGr2</text>
<text transform="rotate(139 1701 1937) translate(1701 1573) rotate(-90)" dy="4">SMGr1</text>
<text transform="rotate(147.2 1701 1937) translate(1701 1573) rotate(-90)" dy="4">MTr1</text>
<text transform="rotate(155.4 1701 1937) translate(1701 1573) rotate(-90)" dy="4">MTr2</text>
<text transform="rotate(163.6 1701 1937) translate(1701 1573) rotate(-90)" dy="4">OCr2</text>
<text transform="rotate(171.8 1701 1937) translate(1701 1573) rotate(-90)" dy="4">OCr1</text>
</g>
<g font-size="12" fill="#444" text-anchor="end">
<text transform="rotate(-10 1701 1937) translate(1701 1573) rotate(90)" dy="4">DLPFCl1</text>
<text transform="rotate(-20 1701 1937) translate(1701 1573) rotate(90)" dy="4">DLPFCl2</text>
<text transform="rotate(-30 1701 1937) translate(1701 1573) rotate(90)" dy="4">VLPFCl1</text>
<text transform="rotate(-40 1701 1937) translate(1701 1573) rotate(90)" dy="4">VLPFCl2</text>
<text transform="rotate(-50 1701 1937) translate(1701 1573) rotate(90)" dy="4">aSTGl1</text>
<text transform="rotate(-60 1701 1937) translate(1701 1573) rotate(90)" dy="4">aSTGl2</text>
<text transform="rotate(-70 1701 1937) translate(1701 1573) rotate(90)" dy="4">MCl1</text>
<text transform="rotate(-80 1701 1937) translate(1701 1573) rotate(90)" dy="4">MCl2</text>
<text transform="rotate(-96.8 1701 1937) translate(1701 1573) rotate(90)" dy="4">MTGl1</text>
<text transform="rotate(-103.7 1701 1937) translate(1701 1573) rotate(90)" dy="4">MTGl2</text>
<text transform="rotate(-110.6 1701 1937) translate(1701 1573) rotate(90)" dy="4">SMGl1</text>
<text transform="rotate(-117.6 1701 1937) translate(1701 1573) rotate(90)" dy="4">SMGl2</text>
<text transform="rotate(-124.5 1701 1937) translate(1701 1573) rotate(90)" dy="4">HGl1</text>
<text transform="rotate(-131.4 1701 1937) translate(1701 1573) rotate(90)" dy="4">HGl2</text>
<text transform="rotate(-138.5 1701 1937) translate(1701 1573) rotate(90)" dy="4">FFAl1</text>
<text transform="rotate(-145.6 1701 1937) translate(1701 1573) rotate(90)" dy="4">FFAl2</text>
<text transform="rotate(-152.5 1701 1937) translate(1701 1573) rotate(90)" dy="4">MTl1</text>
<text transform="rotate(-159.2 1701 1937) translate(1701 1573) rotate(90)" dy="4">MTl2</text>
<text transform="rotate(-166.3 1701 1937) translate(1701 1573) rotate(90)" dy="4">OCl1</text>
<text transform="rotate(-173.2 1701 1937) translate(1701 1573) rotate(90)" dy="4">OCl2</text>
</g>

<!-- ARROWS -->
<polygon points="981,579 1073,579 1073,630 1119,630 1027,687 935,630 981,630" fill="#a5a5a5" stroke="#1f3a56" stroke-width="5" stroke-linejoin="miter"/>
<polygon points="981,1364 1073,1364 1073,1417 1119,1417 1027,1474 935,1417 981,1417" fill="#a5a5a5" stroke="#1f3a56" stroke-width="5" stroke-linejoin="miter"/>
</svg>
</body></html>
